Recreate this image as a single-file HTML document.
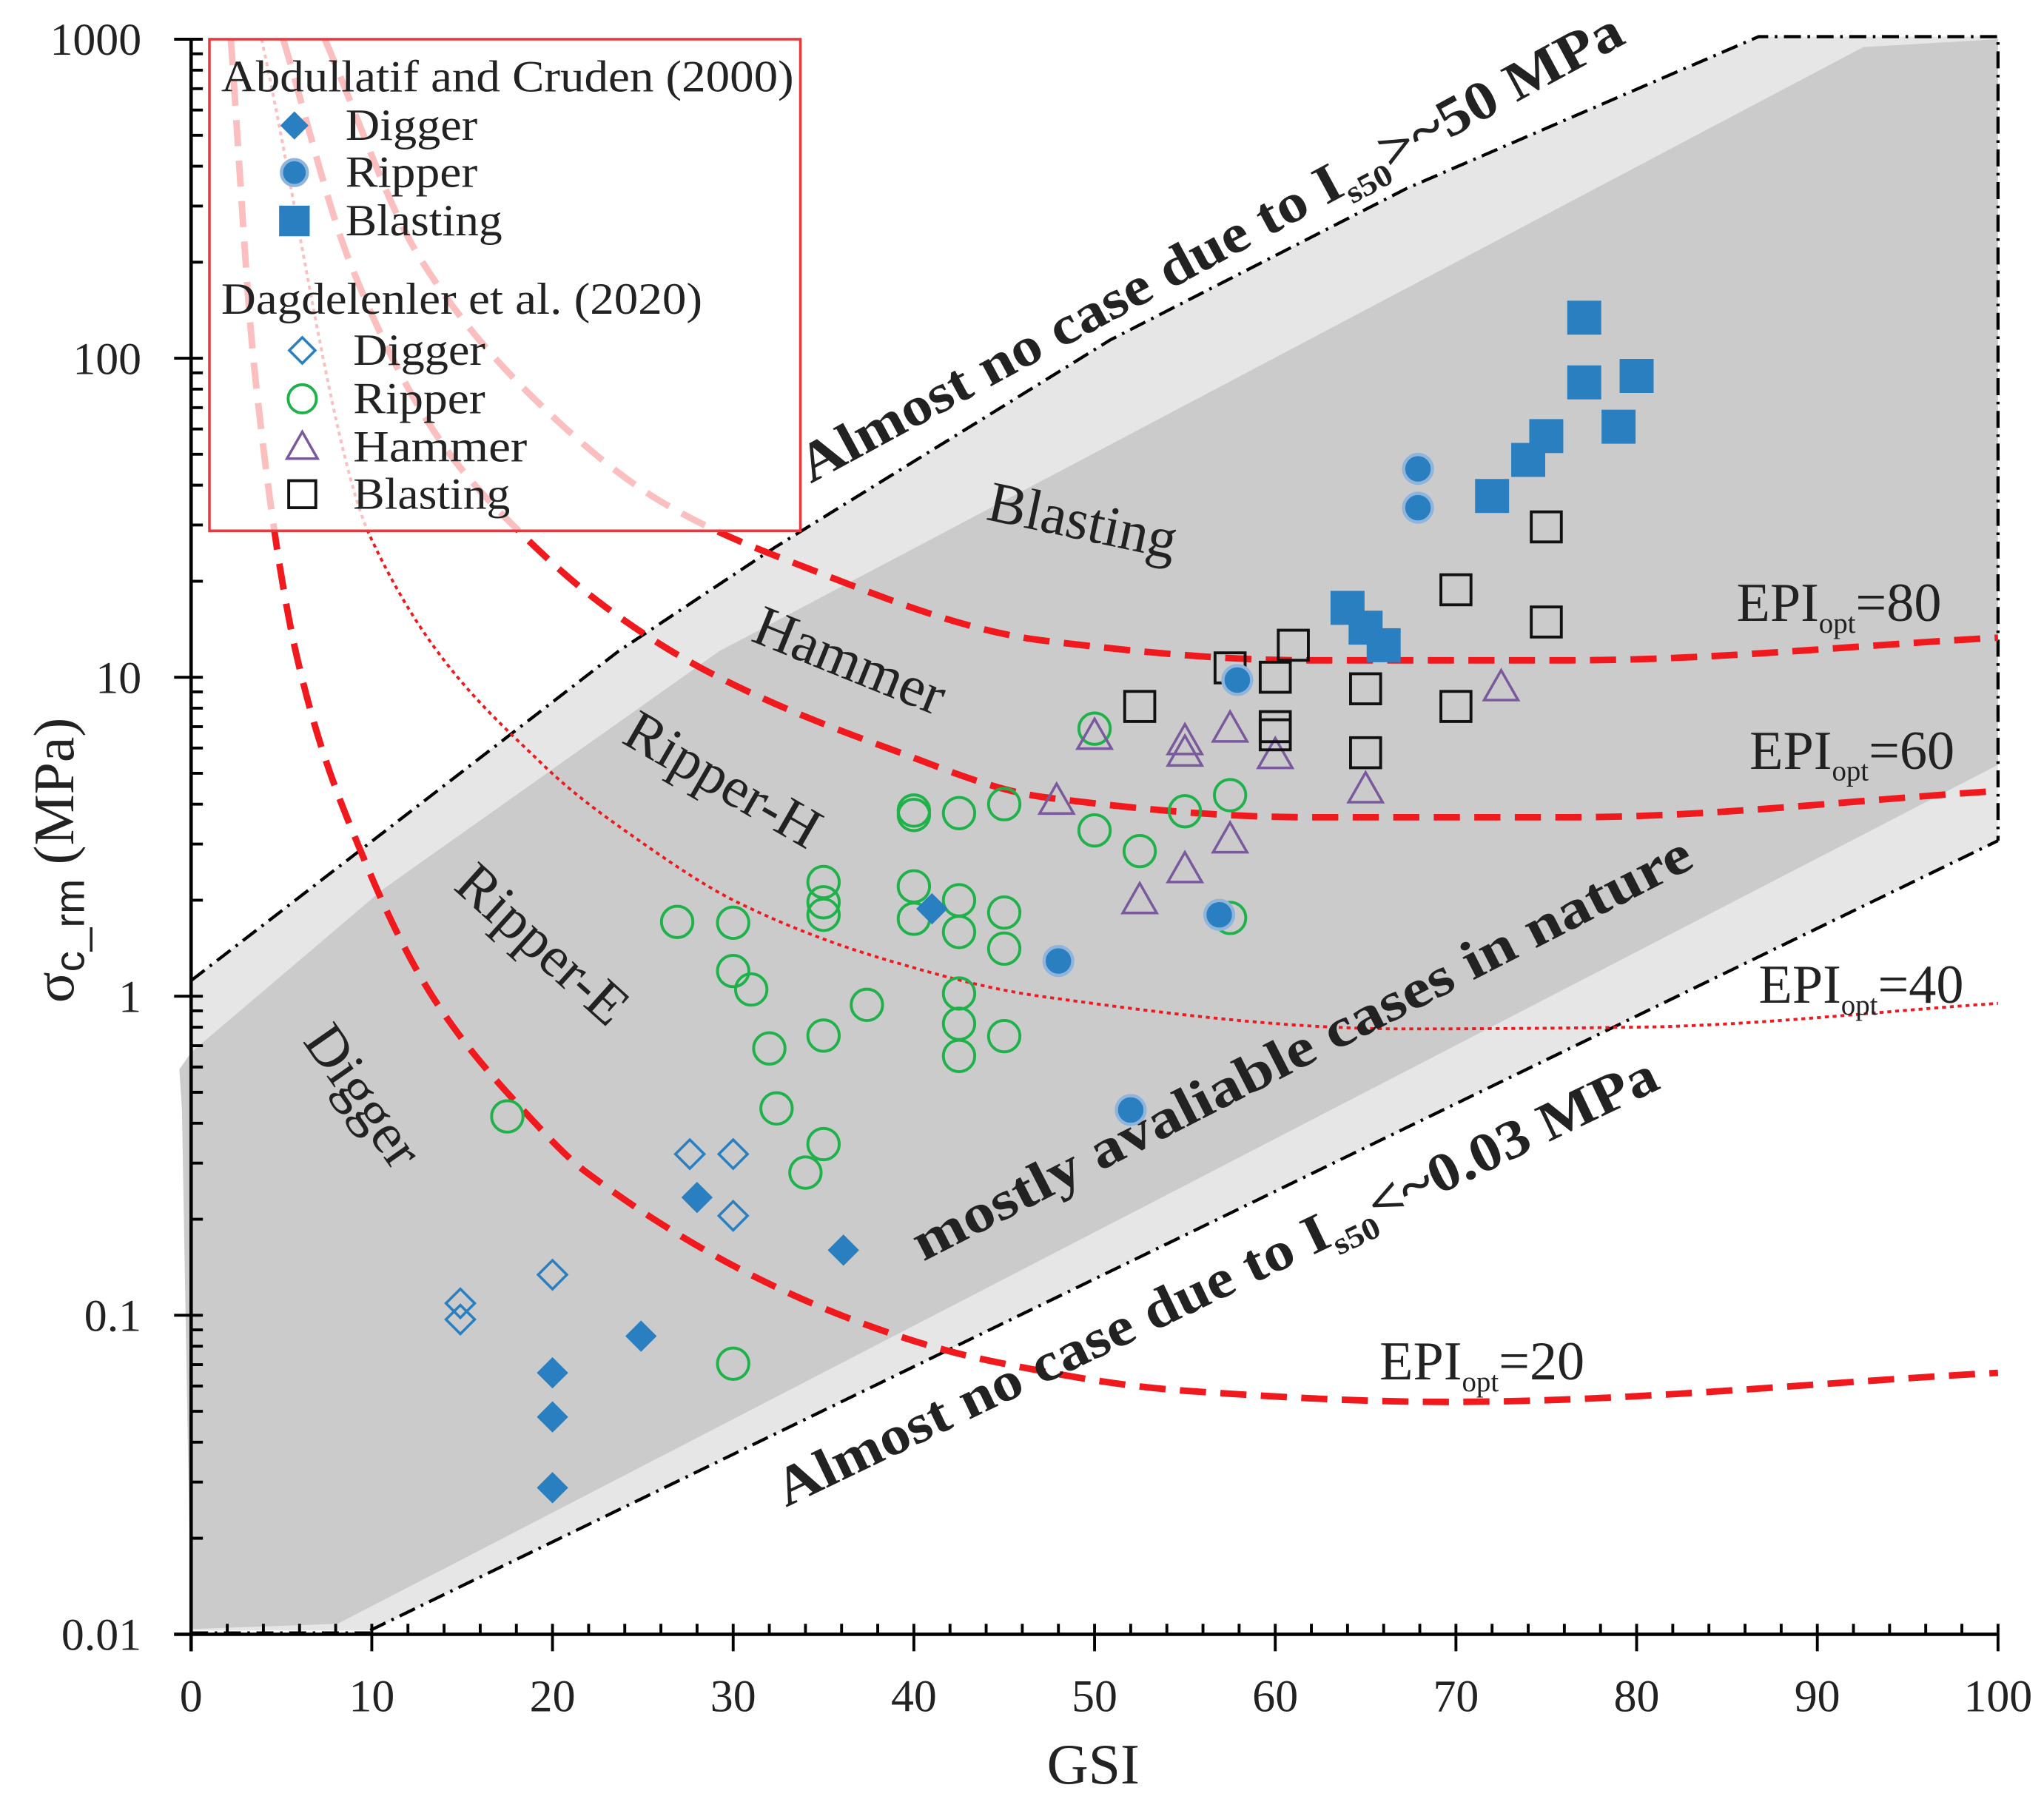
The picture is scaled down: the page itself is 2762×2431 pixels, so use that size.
<!DOCTYPE html>
<html><head><meta charset="utf-8"><style>
html,body{margin:0;padding:0;background:#fff;}
svg{display:block;font-family:"Liberation Serif",serif;}
</style></head><body>
<svg id="chart" width="2762" height="2431" viewBox="0 0 1563 1376" xmlns="http://www.w3.org/2000/svg">
<g id="bg">
  <polygon fill="#e6e6e6" points="146,750 473,498 592,419 849,260 1076,144 1345,28 1528,28 1528,643 283,1247 146,1247"/>
  <polygon fill="#cbcbcb" points="137,818 146,805 293,680 550,498 1425,36 1528,30 1528,585 258,1242 146,1246 139,849"/>
  <polyline points="146,750 473,498 592,419 849,260 1076,144 1345,28 1528,28 1528,643" fill="none" stroke="#000" stroke-width="2.4" stroke-dasharray="13,5,2,5"/>
  <line x1="283" y1="1247" x2="1528" y2="643" stroke="#000" stroke-width="2.4" stroke-dasharray="13,5,2,5"/>
  <line x1="146" y1="1249" x2="283" y2="1249" stroke="#000" stroke-width="2.4" stroke-dasharray="13,5,2,5"/>
</g>
<g id="curves"></g>
<g id="labels" font-size="44" fill="#222">
  <text transform="translate(620,370) rotate(-28.4)" font-weight="bold" font-size="42" textLength="710" lengthAdjust="spacingAndGlyphs">Almost no case due to I<tspan font-size="24" dy="9">s50</tspan><tspan dy="-9">&gt;~50 MPa</tspan></text>
  <text transform="translate(601,1153) rotate(-25.6)" font-weight="bold" font-size="42" textLength="743" lengthAdjust="spacingAndGlyphs">Almost no case due to I<tspan font-size="24" dy="9">s50</tspan><tspan dy="-9">&lt;~0.03 MPa</tspan></text>
  <text transform="translate(706,965) rotate(-27.1)" font-weight="bold" font-size="42" textLength="664" lengthAdjust="spacingAndGlyphs">mostly avaliable  cases in nature</text>
  <text transform="translate(828,398) rotate(12)" text-anchor="middle" dominant-baseline="central">Blasting</text>
  <text transform="translate(650,505) rotate(22)" text-anchor="middle" dominant-baseline="central">Hammer</text>
  <text transform="translate(553,596) rotate(30)" text-anchor="middle" dominant-baseline="central">Ripper-H</text>
  <text transform="translate(415,722) rotate(42)" text-anchor="middle" dominant-baseline="central">Ripper-E</text>
  <text transform="translate(278,838) rotate(55)" text-anchor="middle" dominant-baseline="central">Digger</text>
  <text x="1328" y="475" font-size="42">EPI<tspan font-size="22" dy="9">opt</tspan><tspan dy="-9">=80</tspan></text>
  <text x="1338" y="588" font-size="42">EPI<tspan font-size="22" dy="9">opt</tspan><tspan dy="-9">=60</tspan></text>
  <text x="1345" y="767" font-size="42">EPI<tspan font-size="22" dy="9">opt</tspan><tspan dy="-9">=40</tspan></text>
  <text x="1055" y="1055" font-size="42">EPI<tspan font-size="22" dy="9">opt</tspan><tspan dy="-9">=20</tspan></text>
</g>
<g id="points"></g>
<g id="axes"></g>
<g id="legend"></g>
</svg>
<script>
const xDomain=[0,100];
const yDecades=[-2,3];
const epiNames=['epi-20','epi-40','epi-60','epi-80'];
const epi20=[[2.2,1000],[3.5,93],[5.9,11.3],[9.5,2.75],[13.4,0.99],[18.7,0.42],[21.9,0.28],[37,0.095],[44.2,0.072],[55,0.058],[69.5,0.0535],[100,0.066]];
const epi40=[[3.9,1000],[9.9,27.7],[19.5,5.3],[24.5,3.16],[30.4,1.95],[38.3,1.31],[47,1.0],[67.2,0.79],[80,0.8],[100,0.95]];
const epi60=[[5.1,1000],[8.8,199],[13.9,54],[18.2,28.5],[23,16.5],[28.9,10.2],[38.3,6.07],[47.3,4.2],[61.8,3.64],[76.3,3.64],[100,4.4]];
const epi80=[[7.4,1000],[12.6,209],[19.5,70],[26.2,35],[32.7,23.6],[47.3,13],[61.8,11.3],[76.3,11.3],[100,13.3]];
const acDigger=[[20,0.066],[20,0.048],[20,0.0288],[24.9,0.086],[28,0.234],[36.1,0.16],[41,1.88]];
const acRipper=[[67.9,45],[67.9,34],[57.9,9.8],[56.9,1.8],[48,1.29],[52,0.44]];
const acBlasting=[[77.1,134],[77.1,84],[80,88],[79,61],[75,57],[74,48],[72,37],[64,16.5],[65,14.3],[66,12.6]];
const ddDigger=[[14.9,0.109],[14.9,0.097],[20,0.134],[27.6,0.32],[30,0.32],[30,0.205]];
const ddRipper=[[17.5,0.42],[26.9,1.71],[30,1.7],[30,1.2],[31,1.05],[32,0.686],[32.4,0.445],[34,0.28],[35,0.344],[35,0.753],[35,2.28],[35,1.97],[35,1.8],[37.4,0.94],[40,3.82],[40,3.7],[40,2.21],[40,1.75],[42.5,3.75],[42.5,2.0],[42.5,1.59],[42.5,1.02],[42.5,0.82],[42.5,0.65],[45,4.0],[45,1.83],[45,1.41],[45,0.75],[30,0.0705],[50,6.9],[50,3.31],[52.5,2.85],[55,3.8],[57.5,4.27],[57.5,1.76]];
const ddHammer=[[50,6.55],[52.5,2.0],[55,5.8],[55,6.3],[55,2.5],[57.5,6.9],[57.5,3.1],[60,5.7],[65,4.45],[72.5,9.3],[47.9,4.1]];
const ddBlasting=[[52.5,8.1],[57.5,10.7],[60,10],[60,7.0],[60,6.6],[61,12.6],[65,9.2],[65,5.8],[70,18.8],[70,8.1],[75,29.6],[75,14.9]];
const xTicks=[0,10,20,30,40,50,60,70,80,90,100];
const yTicks=[0.01,0.1,1,10,100,1000];
const yTickLabels=['0.01','0.1','1','10','100','1000'];

const NS='http://www.w3.org/2000/svg';
const X0=146,X1=1528,Y0=1250,Y1=30;
function sx(v){return X0+(v-xDomain[0])/(xDomain[1]-xDomain[0])*(X1-X0);}
function sy(v){return Y0-(Math.log10(v)-yDecades[0])/(yDecades[1]-yDecades[0])*(Y0-Y1);}
function mk(tag,attrs,parent){const e=document.createElementNS(NS,tag);for(const k in attrs)e.setAttribute(k,attrs[k]);parent.appendChild(e);return e;}

const cg=document.getElementById('curves');
const defs=mk('defs',{},document.getElementById('chart'));
const cp=mk('clipPath',{id:'plotclip'},defs);
mk('rect',{x:X0-10,y:Y1,width:X1-X0+20,height:Y0-Y1},cp);
cg.setAttribute('clip-path','url(#plotclip)');
// monotone cubic (Fritsch-Carlson) in x
function monotone(pts){
  const n=pts.length,dx=[],m=[],t=new Array(n);
  for(let i=0;i<n-1;i++){dx.push(pts[i+1][0]-pts[i][0]);m.push((pts[i+1][1]-pts[i][1])/dx[i]);}
  t[0]=m[0];t[n-1]=m[n-2];
  for(let i=1;i<n-1;i++){if(m[i-1]*m[i]<=0)t[i]=0;else{const w1=2*dx[i]+dx[i-1],w2=dx[i]+2*dx[i-1];t[i]=(w1+w2)/(w1/m[i-1]+w2/m[i]);}}
  let d='M'+pts[0][0]+','+pts[0][1];
  for(let i=0;i<n-1;i++){const h=dx[i]/3;d+=' C'+(pts[i][0]+h)+','+(pts[i][1]+t[i]*h)+' '+(pts[i+1][0]-h)+','+(pts[i+1][1]-t[i+1]*h)+' '+pts[i+1][0]+','+pts[i+1][1];}
  return d;
}
[[epi20,'20,11',5],[epi40,'3,3',2.2],[epi60,'20,11',5],[epi80,'20,11',5]].forEach((c,i)=>{
  const pts=c[0].map(p=>[sx(p[0]),sy(p[1])]);
  const p=mk('path',{d:monotone(pts),fill:'none',stroke:'#f0191e','stroke-width':c[2],'stroke-dasharray':c[1]},cg);
  
  
});

const pg=document.getElementById('points');
const blue='#2a7fc1';
function marker(type,x,y,parent,scale){
  scale=scale||1;let e;
  if(type==='fdiamond'){const r=12*scale;e=mk('polygon',{points:`${x},${y-r} ${x+r},${y} ${x},${y+r} ${x-r},${y}`,fill:blue},parent);}
  else if(type==='fcircle'){e=mk('circle',{cx:x,cy:y,r:11*scale,fill:blue,stroke:'#8fb5dc','stroke-width':2.5},parent);}
  else if(type==='fsquare'){const r=13*scale;e=mk('rect',{x:x-r,y:y-r,width:2*r,height:2*r,fill:blue},parent);}
  else if(type==='odiamond'){const r=11*scale;e=mk('polygon',{points:`${x},${y-r} ${x+r},${y} ${x},${y+r} ${x-r},${y}`,fill:'none',stroke:blue,'stroke-width':2},parent);}
  else if(type==='ocircle'){e=mk('circle',{cx:x,cy:y,r:12*scale,fill:'none',stroke:'#1fb14a','stroke-width':2.2},parent);}
  else if(type==='otriangle'){const r=13*scale;e=mk('polygon',{points:`${x},${y-r} ${x+r},${y+r*0.75} ${x-r},${y+r*0.75}`,fill:'none',stroke:'#7a5a9c','stroke-width':2},parent);}
  else {const r=11.5*scale;e=mk('rect',{x:x-r,y:y-r,width:2*r,height:2*r,fill:'none',stroke:'#111','stroke-width':2.2},parent);}
  return e;
}
const series=[[ddRipper,'ocircle','dagdelenler-ripper'],[ddHammer,'otriangle','dagdelenler-hammer'],[ddBlasting,'osquare','dagdelenler-blasting'],[ddDigger,'odiamond','dagdelenler-digger'],[acDigger,'fdiamond','abdullatif-digger'],[acRipper,'fcircle','abdullatif-ripper'],[acBlasting,'fsquare','abdullatif-blasting']];
series.forEach(s=>{s[0].forEach(p=>{const e=marker(s[1],sx(p[0]),sy(p[1]),pg);
  
  
});});

const ag=document.getElementById('axes');
const xa=mk('line',{x1:X0-13,y1:Y0,x2:X1,y2:Y0,stroke:'#000','stroke-width':2.6},ag);


const ya=mk('line',{x1:X0,y1:Y0+13,x2:X0,y2:Y1,stroke:'#000','stroke-width':2.6},ag);


for(let v=0;v<=100;v+=2){const major=v%10===0;mk('line',{x1:sx(v),y1:major?Y0+13:Y0,x2:sx(v),y2:Y0-8,stroke:'#000','stroke-width':2.2},ag);}
xTicks.forEach(v=>{const t=mk('text',{x:sx(v),y:Y0+59,'text-anchor':'middle','font-size':35,fill:'#222'},ag);t.textContent=v;
  
  
});
for(let d=yDecades[0];d<yDecades[1];d++){for(let m=1;m<10;m++){const v=m*Math.pow(10,d);mk('line',{x1:m===1?X0-13:X0,y1:sy(v),x2:X0+9,y2:sy(v),stroke:'#000','stroke-width':2.2},ag);}}
mk('line',{x1:X0-13,y1:Y1,x2:X0+9,y2:Y1,stroke:'#000','stroke-width':2.2},ag);
yTicks.forEach((v,i)=>{const t=mk('text',{x:X0-38,y:sy(v)+12,'text-anchor':'end','font-size':35,fill:'#222'},ag);t.textContent=yTickLabels[i];
  
  
});
const xt=mk('text',{x:836,y:1364,'text-anchor':'middle','font-size':44,fill:'#222'},ag);xt.textContent='GSI';


const yt=mk('text',{transform:'translate(56,658) rotate(-90)','text-anchor':'middle','font-size':44,fill:'#222'},ag);
yt.innerHTML='σ<tspan font-family="Liberation Sans, sans-serif" font-size="32" dy="8">c_rm</tspan><tspan dy="-8"> (MPa)</tspan>';



const lg=document.getElementById('legend');
mk('rect',{x:160,y:30,width:452,height:376,fill:'rgba(255,255,255,0.72)',stroke:'#e8383d','stroke-width':2},lg);
function ltext(x,y,s,name,len){const t=mk('text',{x:x,y:y,'font-size':34,fill:'#222'},lg);t.textContent=s;
  if(len){t.setAttribute('textLength',len);t.setAttribute('lengthAdjust','spacingAndGlyphs');}
  
  
}
ltext(169,70,'Abdullatif and Cruden (2000)','legend-group-abdullatif',438);
ltext(169,240,'Dagdelenler et al.  (2020)','legend-group-dagdelenler',368);
const items=[['fdiamond',96,'Digger',225,264,101],['fcircle',132,'Ripper',225,264,101],['fsquare',169,'Blasting',225,264,120],['odiamond',268,'Digger',231,270,101],['ocircle',305,'Ripper',231,270,101],['otriangle',342,'Hammer',231,270,133],['osquare',378,'Blasting',231,270,120]];
items.forEach(it=>{const m=marker(it[0],it[3],it[1],lg,0.9);
  
  
  ltext(it[4],it[1]+11,it[2],'legend-entry',it[5]);});
</script>
</body></html>
